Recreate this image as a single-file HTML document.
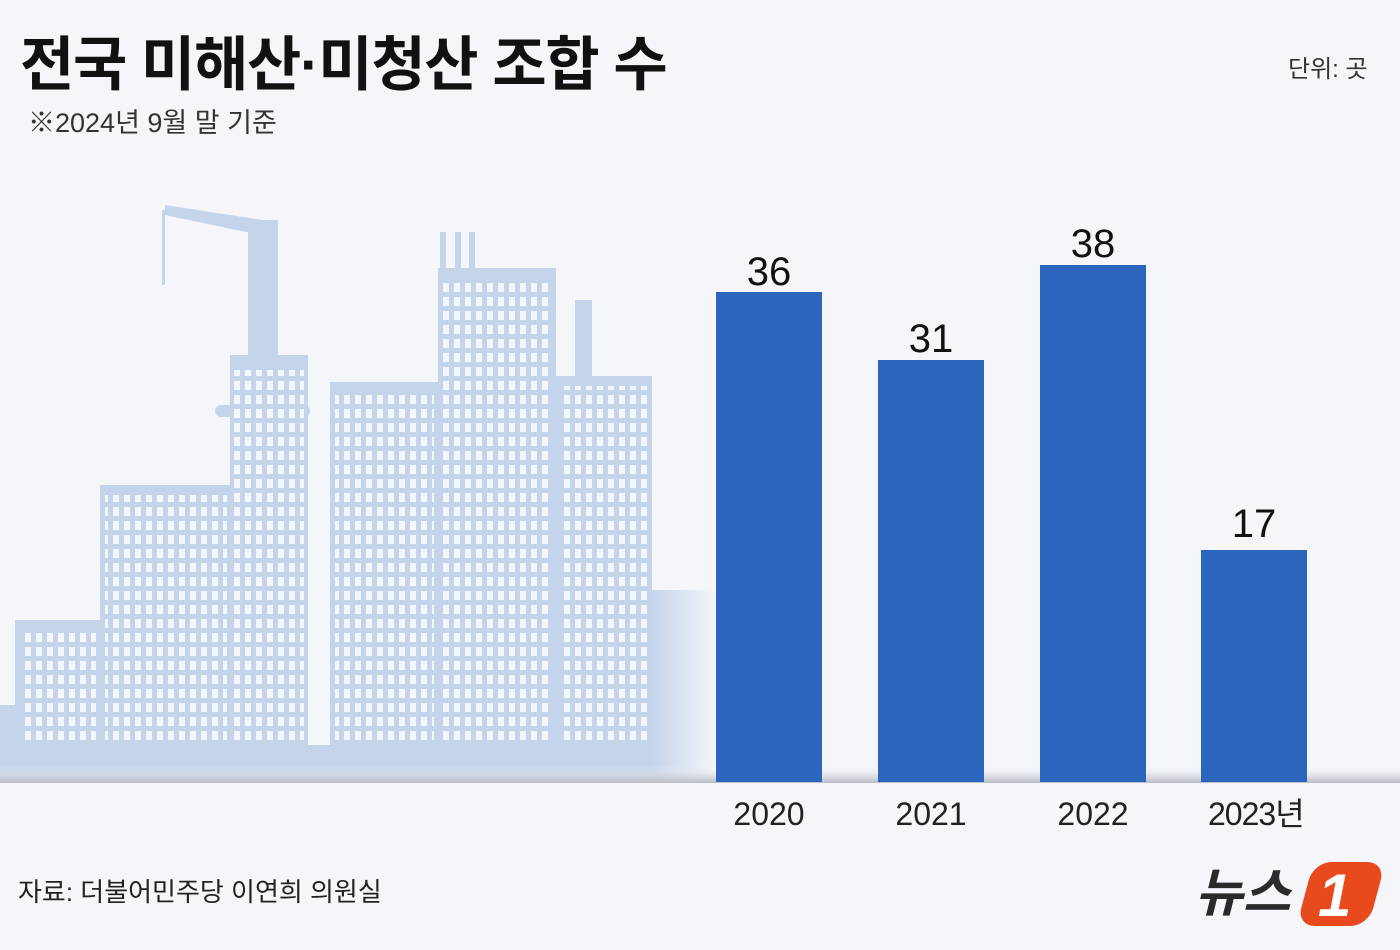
<!DOCTYPE html>
<html><head><meta charset="utf-8"><style>
body{margin:0;width:1400px;height:950px;background:#f5f6fa;position:relative;overflow:hidden;font-family:"Liberation Sans","Noto Sans CJK KR",sans-serif;}
.t{position:absolute;white-space:nowrap;line-height:1;}
</style></head><body>
<svg width="1400" height="950" style="position:absolute;left:0;top:0">
<defs>
<pattern id="w" x="0" y="0" width="11" height="14" patternUnits="userSpaceOnUse"><rect x="3" y="3" width="6" height="9" fill="#f3f6fb"/></pattern>
<linearGradient id="fade" x1="0" x2="1"><stop offset="0" stop-color="#c4d4ea"/><stop offset="1" stop-color="#c4d4ea" stop-opacity="0"/></linearGradient>
<linearGradient id="sh" x1="0" y1="0" x2="0" y2="1"><stop offset="0" stop-color="#f5f6fa" stop-opacity="0"/><stop offset="1" stop-color="#b9bcc4"/></linearGradient>
</defs>
<g fill="#c4d4ea">
<rect x="0" y="705" width="15" height="50"/>
<rect x="15" y="620" width="85" height="135"/>
<rect x="100" y="485" width="132" height="270"/>
<rect x="230" y="355" width="78" height="400"/>
<rect x="215" y="405" width="95" height="12" rx="6"/>
<rect x="248" y="220" width="30" height="135"/>
<polygon points="165,205 275,222 275,238 165,215"/>
<rect x="162" y="210" width="3" height="75"/>
<rect x="330" y="382" width="108" height="373"/>
<rect x="438" y="268" width="118" height="487"/>
<rect x="440" y="232" width="6" height="40"/><rect x="455" y="232" width="6" height="40"/><rect x="469" y="232" width="6" height="40"/>
<rect x="556" y="376" width="96" height="379"/>
<rect x="575" y="300" width="17" height="76"/>
<rect x="0" y="745" width="652" height="37"/>
</g>
<rect x="652" y="590" width="64" height="192" fill="url(#fade)"/>
<g fill="url(#w)">
<rect x="20" y="630" width="76" height="115"/>
<rect x="105" y="495" width="122" height="250"/>
<rect x="234" y="370" width="70" height="375"/>
<rect x="335" y="392" width="99" height="353"/>
<rect x="443" y="278" width="110" height="467"/>
<rect x="561" y="386" width="88" height="359"/>
</g>
<rect x="0" y="765" width="1400" height="18" fill="url(#sh)"/>
<g fill="#2b65be">
<rect x="716" y="292" width="106" height="490"/>
<rect x="878" y="360" width="106" height="422"/>
<rect x="1040" y="265" width="106" height="517"/>
<rect x="1201" y="550" width="106" height="232"/>
</g>
</svg>
<div class="t" style="left:20px;top:36px;font-size:59px;font-weight:bold;color:#111;letter-spacing:-1.3px">전국 미해산·미청산 조합 수</div>
<div class="t" style="left:1288px;top:58px;font-size:24px;color:#333">단위: 곳</div>
<div class="t" style="left:28px;top:110px;font-size:27px;color:#333">※2024년 9월 말 기준</div>
<div class="t" style="left:716px;width:106px;text-align:center;top:252px;font-size:40px;color:#111">36</div>
<div class="t" style="left:878px;width:106px;text-align:center;top:319px;font-size:40px;color:#111">31</div>
<div class="t" style="left:1040px;width:106px;text-align:center;top:224px;font-size:40px;color:#111">38</div>
<div class="t" style="left:1201px;width:106px;text-align:center;top:504px;font-size:40px;color:#111">17</div>
<div class="t" style="left:716px;width:106px;text-align:center;top:798px;font-size:32px;color:#222">2020</div>
<div class="t" style="left:878px;width:106px;text-align:center;top:798px;font-size:32px;color:#222">2021</div>
<div class="t" style="left:1040px;width:106px;text-align:center;top:798px;font-size:32px;color:#222">2022</div>
<div class="t" style="left:1208px;top:798px;font-size:32px;color:#222;letter-spacing:-1px">2023년</div>
<div class="t" style="left:18px;top:879px;font-size:26px;color:#222">자료: 더불어민주당 이연희 의원실</div>
<div class="t" style="left:1195px;top:868px;font-size:52px;font-weight:bold;font-style:italic;color:#2a2a2a">뉴스</div>
<div style="position:absolute;left:1305px;top:862px;width:72px;height:64px;background:#e8491d;border-radius:18px;transform:skewX(-15deg)"></div>
<div class="t" style="left:1318px;top:866px;font-size:60px;font-weight:bold;font-style:italic;color:#fff">1</div>
</body></html>
